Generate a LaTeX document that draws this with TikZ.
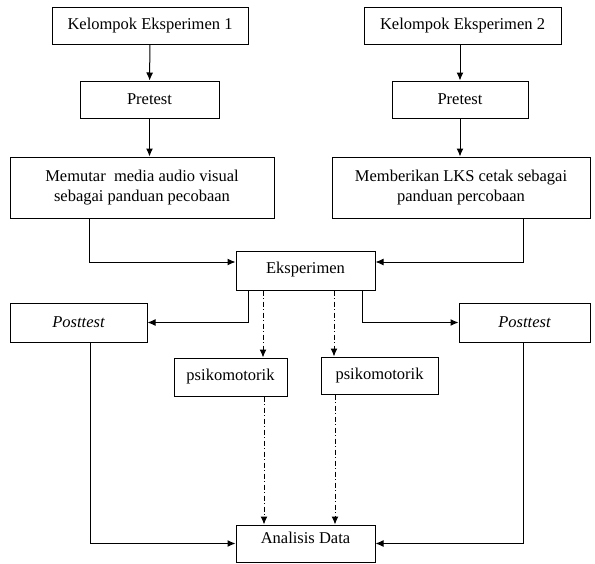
\documentclass[tikz,border=0pt]{standalone}
\usepackage{fontspec}
\setmainfont{Liberation Serif}
\usetikzlibrary{arrows.meta}
\begin{document}
\begin{tikzpicture}[x=1pt,y=-1pt,
  box/.style={draw,line width=1pt,rectangle,inner sep=0pt,align=center,font=\fontsize{16.5}{20}\selectfont},
  arr/.style={line width=1pt,-{Latex[length=8pt,width=7pt]}},
  dd/.style={arr,dash pattern=on 5pt off 2.5pt on 1pt off 2.5pt}]
\useasboundingbox (0,0) rectangle (595,563);
\node[box,minimum width=196pt,minimum height=37pt] (k1) at (150,25.5) {Kelompok Eksperimen 1};
\node[box,minimum width=197pt,minimum height=37pt] (k2) at (462.5,25.5) {Kelompok Eksperimen 2};
\node[box,minimum width=139pt,minimum height=37pt] (p1) at (149.5,99.5) {Pretest};
\node[box,minimum width=136pt,minimum height=37pt] (p2) at (460,99.5) {Pretest};
\node[box,minimum width=264pt,minimum height=61pt] (m1) at (142,187.5) {Memutar\ \ media audio visual\\sebagai panduan pecobaan};
\node[box,minimum width=258pt,minimum height=61pt] (m2) at (461,187.5) {Memberikan LKS cetak sebagai\\panduan percobaan};
\node[box,minimum width=139pt,minimum height=39pt,text depth=6pt] (eks) at (305.5,270.5) {Eksperimen};
\node[box,minimum width=137pt,minimum height=39pt] (post1) at (78.5,322.5) {\itshape Posttest};
\node[box,minimum width=131pt,minimum height=39pt] (post2) at (524.5,322.5) {\itshape Posttest};
\node[box,minimum width=113pt,minimum height=38pt] (psi1) at (230.5,377) {psikomotorik};
\node[box,minimum width=117pt,minimum height=37pt] (psi2) at (379.5,375.5) {psikomotorik};
\node[box,minimum width=139pt,minimum height=37pt,text depth=12pt] (ana) at (305.5,543.5) {Analisis Data};

\draw[arr] (k1) -- (p1);
\draw[arr] (p1.south) -- (p1.south |- m1.north);
\draw[arr] (k2.south -| p2.south) -- (p2);
\draw[arr] (p2.south) -- (p2.south |- m2.north);
\draw[arr] (m1.south -| 89,0) |- (eks.west |- 0,262);
\draw[arr] (m2.south -| 523,0) |- (eks.east |- 0,262);
\draw[arr] (eks.south -| 248,0) |- (post1.east);
\draw[arr] (eks.south -| 362,0) |- (post2.west);
\draw[dd] (eks.south -| 263,0) -- (psi1.north -| 263,0);
\draw[dd] (eks.south -| 334,0) -- (psi2.north -| 334,0);
\draw[dd] (psi1.south -| 264,0) -- (ana.north -| 264,0);
\draw[dd] (psi2.south -| 335,0) -- (ana.north -| 335,0);
\draw[arr] (post1.south -| 90,0) |- (ana.west);
\draw[arr] (post2.south -| 523,0) |- (ana.east);
\end{tikzpicture}
\end{document}
